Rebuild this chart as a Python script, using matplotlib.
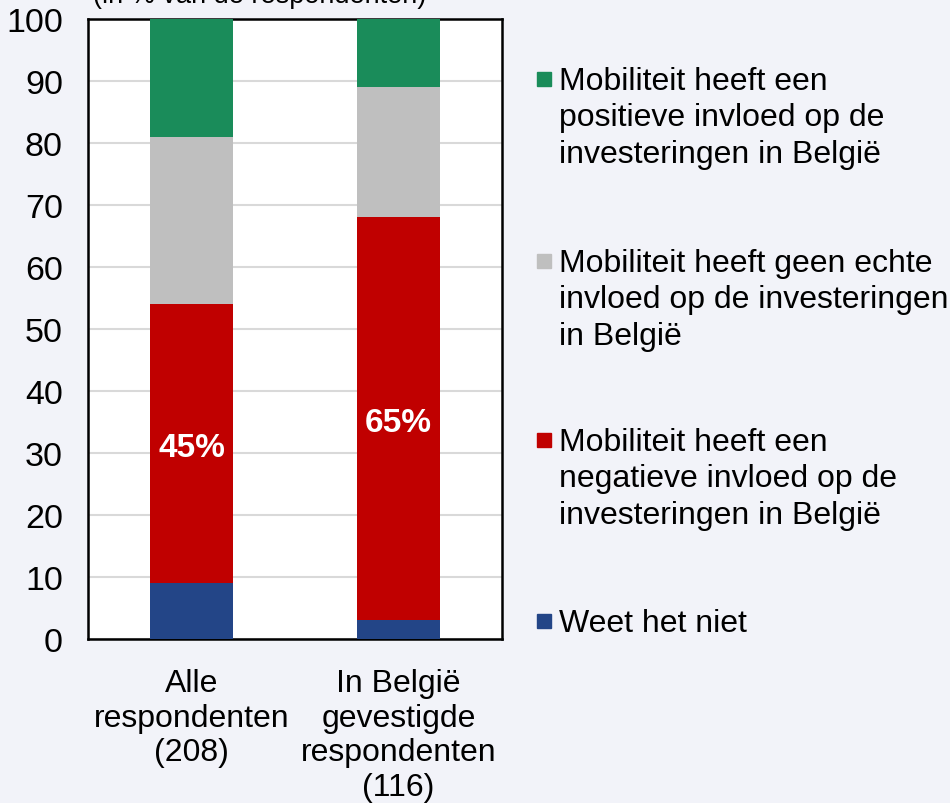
import matplotlib.pyplot as plt
from matplotlib.patches import Rectangle
import numpy as np

plt.rcParams['font.family'] = ['Liberation Sans', 'DejaVu Sans']

categories = ['Alle\nrespondenten\n(208)', 'In België\ngevestigde\nrespondenten\n(116)']
weet_niet = [9, 3]
negatief = [45, 65]
geen = [27, 21]
positief = [19, 11]
bar_labels = ['45%', '65%']

series_names = [
    'Mobiliteit heeft een\npositieve invloed op de\ninvesteringen in België',
    'Mobiliteit heeft geen echte\ninvloed op de investeringen\nin België',
    'Mobiliteit heeft een\nnegatieve invloed op de\ninvesteringen in België',
    'Weet het niet',
]
colors = {'blue': '#234587', 'red': '#C00000', 'gray': '#BFBFBF', 'green': '#1A8C5A'}
bg = '#F2F3F9'
fs = 23

fig = plt.figure(figsize=(9.5, 8.04), dpi=100, facecolor=bg)
ax = fig.add_axes([88 / 950, 1 - 640 / 804, 414 / 950, 620 / 804])
ax.set_facecolor('white')

x = np.arange(len(categories))
w = 0.40
b1 = np.array(weet_niet)
b2 = b1 + np.array(negatief)
b3 = b2 + np.array(geen)
ax.bar(x, weet_niet, w, color=colors['blue'], zorder=3)
ax.bar(x, negatief, w, bottom=b1, color=colors['red'], zorder=3)
ax.bar(x, geen, w, bottom=b2, color=colors['gray'], zorder=3)
ax.bar(x, positief, w, bottom=b3, color=colors['green'], zorder=3)

for xi, lab, lo, v in zip(x, bar_labels, b1, negatief):
    ax.text(xi, lo + v / 2 - 0.6, lab, ha='center', va='center', color='white',
            fontsize=fs + 1, fontweight='bold', zorder=4)

ax.set_xlim(-0.5, 1.5)
ax.set_ylim(0, 100)
ax.set_yticks(range(0, 101, 10))
ax.set_xticks(x)
ax.set_xticklabels(categories, fontsize=fs, linespacing=1.2)
ax.tick_params(axis='y', labelsize=fs + 1.5, length=0, pad=18)
ax.tick_params(axis='x', length=0, pad=21)
ax.grid(axis='y', color='#D9D9D9', linewidth=1.5, zorder=0)
for s in ax.spines.values():
    s.set_linewidth(1.8)
    s.set_color('black')

fig.text(93 / 950, 1 + 4 / 804, '(in % van de respondenten)', fontsize=fs * 0.85,
         va='center', ha='left')

# legend
leg_colors = [colors['green'], colors['gray'], colors['red'], colors['blue']]
leg_y = [80, 262, 441, 622]
for c, name, yy in zip(leg_colors, series_names, leg_y):
    fig.patches.append(Rectangle((537 / 950, 1 - (yy + 7) / 804), 14 / 950, 14 / 804,
                                 transform=fig.transFigure, color=c))
    fig.text(559 / 950, 1 - (yy - 13) / 804, name, fontsize=fs, va='top', ha='left',
             linespacing=1.28)

fig.savefig('out.png', dpi=100, facecolor=bg)
